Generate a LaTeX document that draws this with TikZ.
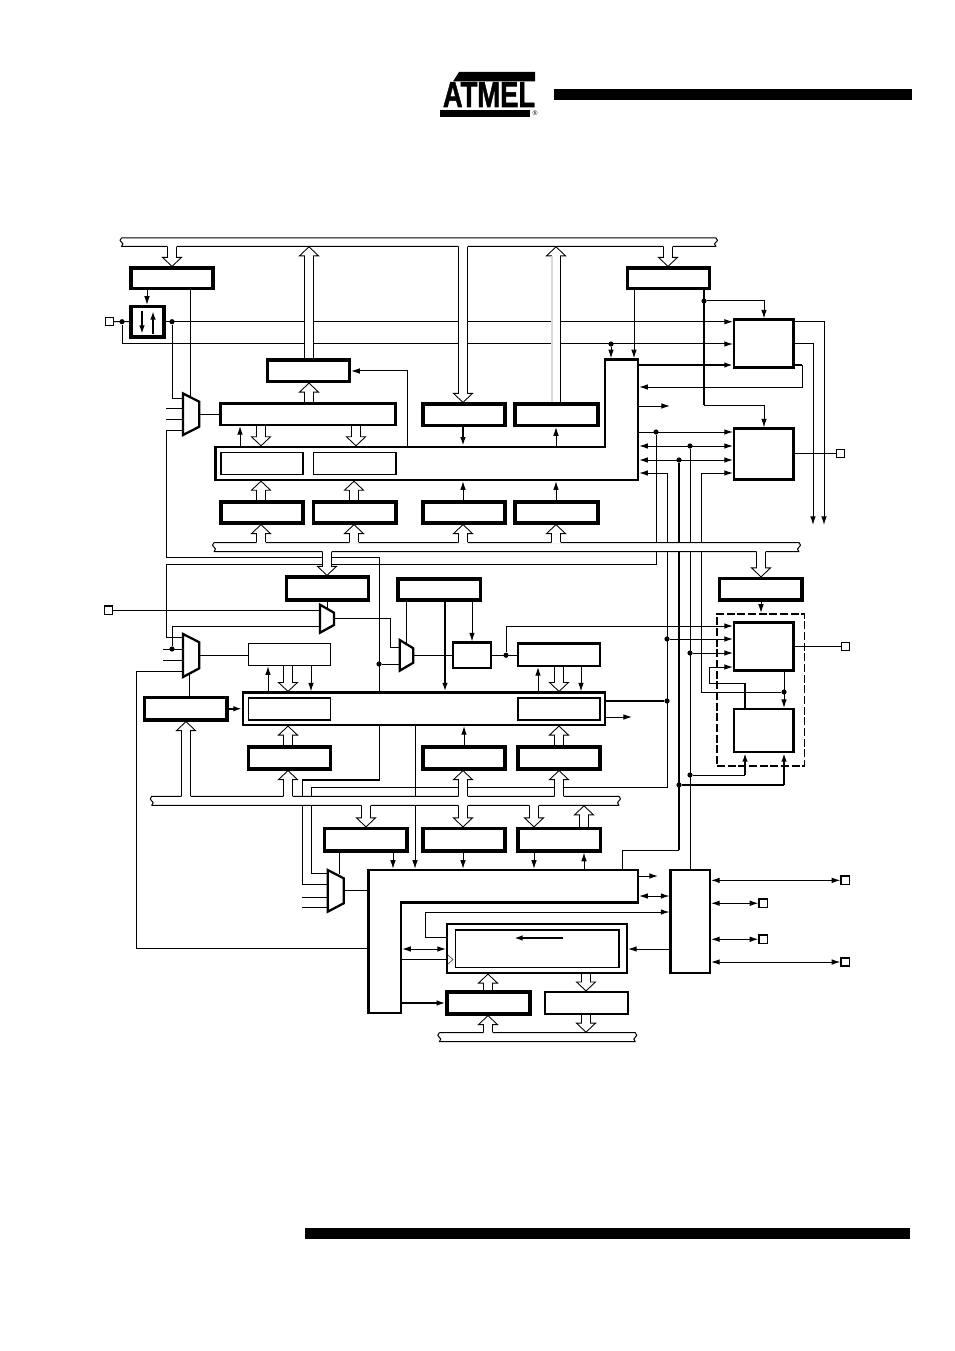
\documentclass[tikz,border=0pt]{standalone}
\usepackage{fontspec}
\setmainfont{Liberation Sans}
\newfontfamily\logofont[FakeBold=1.5]{Liberation Sans Bold}
\usetikzlibrary{calc,arrows.meta}
\pgfdeclarelayer{lines}\pgfdeclarelayer{bus}\pgfdeclarelayer{hollow}
\pgfsetlayers{lines,bus,hollow,main}
\tikzset{
  boxst/.style={rectangle,draw=black,fill=white,inner sep=0pt},
  hv/.style={boxst,line width=2.4pt},
  md/.style={boxst,line width=1.6pt},
  inr/.style={boxst,line width=1.1pt},
  pin/.style={boxst,line width=1pt},
  solidbar/.style={rectangle,fill=black,inner sep=0pt,outer sep=0pt},
  dot/.style={circle,fill=black,inner sep=0pt,minimum size=3.9pt},
  conn/.style={line width=0.75pt,draw=black},
  heavy/.style={line width=1.6pt,draw=black},
  ar/.style={conn,-{Latex[length=6.5pt,width=4.2pt]}},
  dar/.style={conn,{Latex[length=6.5pt,width=4.2pt]}-{Latex[length=6.5pt,width=4.2pt]}},
  tar/.style={heavy,-{Latex[length=6.5pt,width=4.2pt]}},
  muxst/.style={draw=black,fill=white,line width=1.7pt,line join=miter},
  blockst/.style={draw=black,fill=white,line width=2.1pt,line join=miter},
  dashbox/.style={rectangle,draw=black,inner sep=0pt,line width=1.2pt,dash pattern=on 6pt off 2pt},
}
\newcommand\bx[6][hv]{\node[#1,minimum width={(#5-#3)*0.75pt},minimum height={(#6-#4)*0.75pt}] (#2) at ({(#3+#5)/2},{(#4+#6)/2}) {};}
\newcommand\muxp[7]{\draw[muxst] (#2,#3) -- (#4,#5) -- (#4,#6) -- (#2,#7) -- cycle; \coordinate (#1o) at (#4,{(#5+#6)/2});}
\newcommand\busbar[5]{%
  \node[rectangle,fill=white,inner sep=0pt,outer sep=0.4pt,minimum width={(#4-#2)*0.75pt},minimum height={(#5-#3)*0.75pt}] (#1) at ({(#2+#4)/2},{(#3+#5)/2}) {};
  \draw[conn,line join=round] (#2,#3) -- (#4,#3)
    .. controls (#4+2,#3+2) and (#4+2,{(#3+#5)/2-1}) .. (#4,{(#3+#5)/2})
    .. controls (#4-2,{(#3+#5)/2+1}) and (#4-2,#5-2) .. (#4,#5) -- (#2,#5)
    .. controls (#2+2,#5-2) and (#2+2,{(#3+#5)/2+1}) .. (#2,{(#3+#5)/2})
    .. controls (#2-2,{(#3+#5)/2-1}) and (#2-2,#3+2) .. (#2,#3);}
\newcommand\hollow[4]{%
  \coordinate (hs) at (#2 -| x#1); \coordinate (ht) at (#3 -| x#1);
  \fill[white] ($(hs)+(-4.5,{-1.6*(#4)})$) -- ($(ht)+(-4.5,{-9*(#4)})$) -- ($(ht)+(-9.5,{-9*(#4)})$) -- (ht) -- ($(ht)+(9.5,{-9*(#4)})$) -- ($(ht)+(4.5,{-9*(#4)})$) -- ($(hs)+(4.5,{-1.6*(#4)})$) -- cycle;
  \draw[line width=0.65pt,draw=black,line join=miter] ($(hs)+(-4.5,0)$) -- ($(ht)+(-4.5,{-9*(#4)})$) -- ($(ht)+(-9.5,{-9*(#4)})$) -- (ht) -- ($(ht)+(9.5,{-9*(#4)})$) -- ($(ht)+(4.5,{-9*(#4)})$) -- ($(hs)+(4.5,0)$);}
\begin{document}
\begin{tikzpicture}[x=0.75pt,y=-0.75pt]
\useasboundingbox (0,0) rectangle (954,1351);
\foreach \i in {0,...,954}{\coordinate (x\i) at (\i,0);}
\foreach \i in {0,...,1351}{\coordinate (y\i) at (0,\i);}
% header and footer bars
\bx[solidbar]{barTop}{554}{89}{912}{100}
\bx[solidbar]{barBottom}{305}{1228}{910}{1239}
% logo
\fill (459,72) -- (535,72) -- (535,81.5) -- (453,81.5) -- cycle;
\fill (440,110.5) -- (530,110.5) -- (530,117) -- (440,117) -- cycle;
\node[font=\fontsize{27}{27}\logofont,xscale=0.76,inner sep=0pt,anchor=base] (logoText) at (489,107) {ATMEL};
\node[font=\fontsize{5}{5}\selectfont,inner sep=0pt] (logoMark) at (535,113) {®};
% upper section boxes
\bx{a1}{131}{268}{213}{288.5}
\bx{a2}{131}{306.5}{164}{337}
\bx[pin]{pinA}{105.3}{317.7}{113.3}{325.7}
\bx[md]{tcnt}{220.5}{403.5}{395.5}{425}
\bx{ocr}{267.5}{360}{349.5}{381.5}
\bx{r1}{221}{502}{303}{523}
\bx{r2}{313.5}{502}{396}{523}
\bx{r3}{423}{502}{505}{523}
\bx{r4}{515}{502}{598}{523}
\bx{u3}{423}{404}{505}{425.5}
\bx{u4}{515}{404}{598}{425.5}
\bx{a3}{627.5}{268}{709.5}{288.5}
\bx[md]{s1}{734}{319.5}{793.5}{367.5}
\bx[md]{s2}{734}{428.5}{793.5}{479.5}
\bx[pin]{pinB}{836.3}{449.3}{844.5}{457.5}
% L-shaped block 1
\draw[blockst] (215.5,447) -- (605,447) -- (605,359.5) -- (638,359.5) -- (638,480) -- (215.5,480) -- cycle;
\coordinate (L1t) at (0,445.8); \coordinate (L1b) at (0,481.2); \coordinate (L1tt) at (0,358.3); \coordinate (L1r) at (639.2,0);
\bx[inr]{i1}{221}{452.5}{303}{474.5}
\bx[inr]{i2}{313.5}{452.5}{396}{474.5}
% middle section boxes
\bx{c1}{286.5}{577}{368.5}{600}
\bx{c2}{398}{579}{480.5}{600}
\bx[md]{c3}{453}{642.5}{491}{668}
\bx[md]{c4}{518}{643.5}{600}{666}
\bx[inr]{c5}{248.5}{643.5}{330.5}{665.5}
\bx[md]{BB}{243}{692.5}{605}{725}
\bx[inr]{ib1}{248.5}{698}{330.5}{720}
\bx[inr]{ib2}{518}{698}{600}{720}
\bx{c6}{144.5}{697.5}{227}{720}
\bx{c7}{248.5}{747}{330.5}{769}
\bx{c8}{423}{747}{505}{769}
\bx{c9}{518}{747}{600}{769}
\bx{e0}{719.5}{578.5}{802}{600}
\bx[md]{e1}{734}{622.5}{793.5}{670.5}
\bx[md]{e2}{734}{709}{793.5}{752}
\bx[pin]{pinE}{841.5}{642.7}{849.3}{650.7}
\bx[pin]{pinC}{104.5}{606}{112.7}{614.5}
% lower section boxes
\bx{d1}{324.5}{828.5}{407}{851}
\bx{d2}{423}{828.5}{505}{851}
\bx{d3}{518}{828.5}{600.5}{851}
\draw[blockst] (368.5,870) -- (638,870) -- (638,902.5) -- (401,902.5) -- (401,1013) -- (368.5,1013) -- cycle;
\coordinate (L2t) at (0,868.8); \coordinate (L2l) at (367.3,0); \coordinate (L2r) at (639.2,0); \coordinate (L2i) at (402.2,0);
\bx[md]{sr}{447}{924}{627}{973}
\bx[inr]{sri}{455.5}{930}{619}{967.5}
\bx{g1}{447}{992}{530}{1014}
\bx[md]{g2}{545}{992}{628}{1014}
\bx[md]{f}{670.5}{870}{710}{973}
\bx[pin]{pinF1}{841}{876}{849.7}{884.7}
\bx[pin]{pinF2}{759}{899}{767.5}{907.5}
\bx[pin]{pinF3}{759}{935}{767.5}{943.5}
\bx[pin]{pinF4}{841}{958}{849.7}{966}
% muxes
\muxp{m1}{183}{393.5}{199.3}{401.7}{426.7}{435}
\muxp{m2}{183}{634}{199.3}{642.3}{668.3}{677}
\muxp{m3}{327.7}{870}{343.7}{878.3}{903.3}{911.7}
\muxp{m4}{320}{604.7}{334}{612.7}{625}{632.7}
\muxp{m5}{399.7}{640}{413.3}{648.3}{662.7}{670.7}
% arrows inside boxes
\draw[tar] (x142|-y311) -- (x142|-y334);
\draw[tar] (x153|-y334) -- (x153|-y311);
\draw[tar] (x563|-y938) -- (x514|-y938);
\draw[draw=black!70,fill=white,line width=0.5pt] (448,955) -- (453,959.5) -- (448,964);
% dots
\node[dot] (dA1) at (x122|-pinA) {};
\node[dot] (dA2) at (x172|-pinA) {};
\node[dot] (dB) at (x611|-y344) {};
\node[dot] (dC) at (x704|-y301) {};
\node[dot] (d656) at (x656|-y432) {};
\node[dot] (d690) at (x690|-y446) {};
\node[dot] (d679) at (x679|-y460) {};
\node[dot] (dG) at (x172|-y649) {};
\node[dot] (d379) at (x379|-y664) {};
\node[dot] (d506) at (c3.east -| x506) {};
\node[dot] (d639) at (x667|-y639) {};
\node[dot] (d653) at (x690|-y653) {};
\node[dot] (d701) at (x667|-y701) {};
\node[dot] (dE) at (x784|-y692) {};
\node[dot] (d775) at (x690|-y775) {};
\node[dot] (d785) at (x679|-y785) {};

\begin{pgfonlayer}{lines}
\fill[white] (0,0) rectangle (954,1351);
\bx[dashbox]{dsh}{717}{613.7}{804.3}{766}
% upper left
\draw[conn] (pinA) -- (a2);
\draw[ar] (a2) -- (a2 -| s1.west);
\draw[ar] (dA1) |- (s1.west |- y344);
\draw[ar] (a1.south -| x147) -- (a2.north -| x147);
\draw[conn] (a1.south -| x190) -- (x190|-y398);
\draw[conn] (dA2) |- (x183|-y398);
\draw[conn] (x166|-y408) -- (x183|-y408);
\draw[conn] (x166|-y419) -- (x183|-y419);
\draw[conn] (x183|-y430) -- (x166|-y430) -- (x166|-y557) -- (x379|-y557) -- (BB.north -| x379);
\draw[conn] (m1o) -- (tcnt.west |- m1o);
\draw[ar] (x407|-L1t) -- (x407|-y371) -- (ocr.east |- y371);
\draw[ar] (x240|-L1t) -- (tcnt.south -| x240);
\draw[tar] (u3.south -| x463) -- (x463|-L1t);
\draw[ar] (x556|-L1t) -- (u4.south -| x556);
\draw[ar] (r3.north -| x463) -- (x463|-L1b);
\draw[ar] (r4.north -| x556) -- (x556|-L1b);
% upper right
\draw[ar] (a3.south -| x634) -- (x634|-L1tt);
\draw[ar] (dB) -- (x611|-L1tt);
\draw[heavy] (a3.south -| x704) -- (x704|-y405);
\draw[ar] (x704|-y405) -| (s2.north -| x764);
\draw[ar] (dC) -| (s1.north -| x764);
\draw[tar] (L1r|-y365) -- (s1.west|-y365);
\draw[ar] (s1.east |- a2) -| (x824|-y525);
\draw[ar] (s1.east |- y344) -| (x813|-y525);
\draw[heavy] (s1.east |- y365) -- (x802|-y365);
\draw[ar] (x802|-y365) |- (L1r|-y387);
\draw[ar] (L1r|-y406) -- (x670|-y406);
\draw[ar] (L1r|-y432) -- (s2.west|-y432);
\draw[dar] (L1r|-y446) -- (s2.west|-y446);
\draw[dar] (L1r|-y460) -- (s2.west|-y460);
\draw[ar] (x328|-y873) -- (x311|-y873) -- (x311|-y787) -- (x667|-y787) -- (x667|-y473) -- (L1r|-y473);
\draw[ar] (x701|-y692) -- (x701|-y473) -- (s2.west|-y473);
\draw[conn] (x701|-y692) -- (dE);
\draw[conn] (s2.east |- pinB) -- (pinB);
\draw[conn] (d656) -- (x656|-y564) -- (x166|-y564) -- (x166|-y637) -- (x183|-y637);
% vertical buses on the right
\draw[heavy] (d679) -- (x679|-y850);
\draw[conn] (x679|-y850) -- (x622|-y850) -- (x622|-L2t);
\draw[heavy] (d785) -- (x784|-y785);
\draw[tar] (x784|-y785) -- (e2.south -| x784);
\draw[conn] (d690) -- (f.north -| x690);
\draw[ar] (d653) -- (e1.west|-y653);
\draw[conn] (d775) -- (x745|-y775);
\draw[tar] (x745|-y775) -- (e2.south -| x745);
\draw[ar] (d639) -- (e1.west|-y639);
\draw[heavy] (BB.east|-y701) -- (d701);
\draw[ar] (BB.east|-y717) -- (x632|-y717);
\draw[conn] (c3.east) -- (c3.east -| c4.west);
\draw[ar] (d506) |- (e1.west|-y626);
\draw[conn] (e1.east |- pinE) -- (pinE);
\draw[ar] (e1.south -| x784) -- (e2.north -| x784);
\draw[heavy] (e2.north -| x745) -- (x745|-y683);
\draw[ar] (x745|-y683) -- (x709|-y683) -- (x709|-y667) -- (e1.west|-y667);
\draw[ar] (e0.south -| x761) -- (dsh.north -| x761);
% middle
\draw[conn] (pinC) -- (pinC -| x320);
\draw[conn] (c1.south -| x327) -- (x327|-y610);
\draw[conn] (x320|-y626) -| (dG);
\draw[conn] (x163|-y649) -- (x183|-y649);
\draw[conn] (x163|-y660) -- (x183|-y660);
\draw[conn] (m2o) -- (c5.west |- m2o);
\draw[conn] (m4o) -- (x390|-m4o) -- (x390|-y647) -- (x400|-y647);
\draw[conn] (d379) -- (x400|-y664);
\draw[conn] (c2.south -| x406) -- (x406|-y646);
\draw[tar] (c2.south -| x445) -- (BB.north -| x445);
\draw[ar] (c2.south -| x472) -- (c3.north -| x472);
\draw[conn] (m5o) -- (c3.west |- m5o);
\draw[ar] (BB.north -| x268) -- (c5.south -| x268);
\draw[ar] (c5.south -| x311) -- (BB.north -| x311);
\draw[ar] (BB.north -| x538) -- (c4.south -| x538);
\draw[ar] (c4.south -| x581) -- (BB.north -| x581);
\draw[tar] (c6.east) -- (BB.west |- c6.east);
\draw[conn] (c6.north -| x189) -- (x189|-y672);
\draw[conn] (x183|-y671) -- (x136|-y671) -- (x136|-y948) -- (L2l|-y948);
\draw[conn] (BB.south -| x379) -- (x379|-y780);
\draw[heavy] (x380|-y780) -- (x302|-y780);
\draw[conn] (x302|-y780) -- (x302|-y884) -- (x328|-y884);
\draw[conn] (x302|-y897) -- (x328|-y897);
\draw[conn] (x302|-y907) -- (x328|-y907);
\draw[conn] (m3o) -- (L2l |- m3o);
\draw[conn] (d1.south -| x339) -- (x339|-y874);
\draw[ar] (BB.south -| x415) -- (x415|-L2t);
\draw[ar] (c8.north -| x464) -- (BB.south -| x464);
% lower
\draw[ar] (d1.south -| x393) -- (x393|-L2t);
\draw[ar] (d2.south -| x463) -- (x463|-L2t);
\draw[ar] (d3.south -| x534) -- (x534|-L2t);
\draw[ar] (x584|-L2t) -- (d3.south -| x584);
\draw[ar] (L2r|-y876) -- (x658|-y876);
\draw[dar] (L2r|-y896) -- (f.west|-y896);
\draw[ar] (sr.west|-y937) -- (x425|-y937) -- (x425|-y912) -- (f.west|-y912);
\draw[dar] (L2i|-y949) -- (sr.west|-y949);
\draw[ar] (f.west|-y949) -- (sr.east|-y949);
\draw[conn] (L2i|-y959) -- (sr.west|-y959);
\draw[tar] (L2i|-y1003) -- (g1.west|-y1003);
\draw[dar] (f.east |- pinF1) -- (pinF1);
\draw[dar] (f.east |- pinF2) -- (pinF2);
\draw[dar] (f.east |- pinF3) -- (pinF3);
\draw[dar] (f.east |- pinF4) -- (pinF4);
\end{pgfonlayer}

\begin{pgfonlayer}{bus}
\busbar{busA}{121.5}{238}{716}{246.3}
\busbar{busB}{214}{542.5}{799}{551.7}
\busbar{busC}{151.7}{796.3}{619}{805.3}
\busbar{busD}{439.3}{1032.7}{635.3}{1041.7}
\end{pgfonlayer}

\begin{pgfonlayer}{hollow}
\hollow{172}{busA.south}{a1.north}{1}
\hollow{309}{ocr.north}{busA.south}{-1}
\hollow{309}{tcnt.north}{ocr.south}{-1}
\hollow{261}{tcnt.south}{L1t}{1}
\hollow{356}{tcnt.south}{L1t}{1}
\hollow{261}{r1.north}{L1b}{-1}
\hollow{354}{r2.north}{L1b}{-1}
\hollow{261}{busB.north}{r1.south}{-1}
\hollow{354}{busB.north}{r2.south}{-1}
\hollow{463}{busB.north}{r3.south}{-1}
\hollow{556}{busB.north}{r4.south}{-1}
\hollow{463}{busA.south}{u3.north}{1}
\hollow{556}{u4.north}{busA.south}{-1}
\draw[line width=1.5pt,black!15] (x552|-u4.north) -- (x552|-y256);
\hollow{668}{busA.south}{a3.north}{1}
\hollow{327}{busB.south}{c1.north}{1}
\hollow{761}{busB.south}{e0.north}{1}
\hollow{288}{c5.south}{BB.north}{1}
\hollow{559}{c4.south}{BB.north}{1}
\hollow{288}{c7.north}{BB.south}{-1}
\hollow{559}{c9.north}{BB.south}{-1}
\hollow{186}{busC.north}{c6.south}{-1}
\hollow{288}{busC.north}{c7.south}{-1}
\hollow{463}{busC.north}{c8.south}{-1}
\hollow{559}{busC.north}{c9.south}{-1}
\hollow{366}{busC.south}{d1.north}{1}
\hollow{463}{busC.south}{d2.north}{1}
\hollow{534}{busC.south}{d3.north}{1}
\hollow{584}{d3.north}{busC.south}{-1}
\hollow{488}{g1.north}{sr.south}{-1}
\hollow{586}{sr.south}{g2.north}{1}
\hollow{488}{busD.north}{g1.south}{-1}
\hollow{586}{g2.south}{busD.north}{1}
\end{pgfonlayer}
\end{tikzpicture}
\end{document}
